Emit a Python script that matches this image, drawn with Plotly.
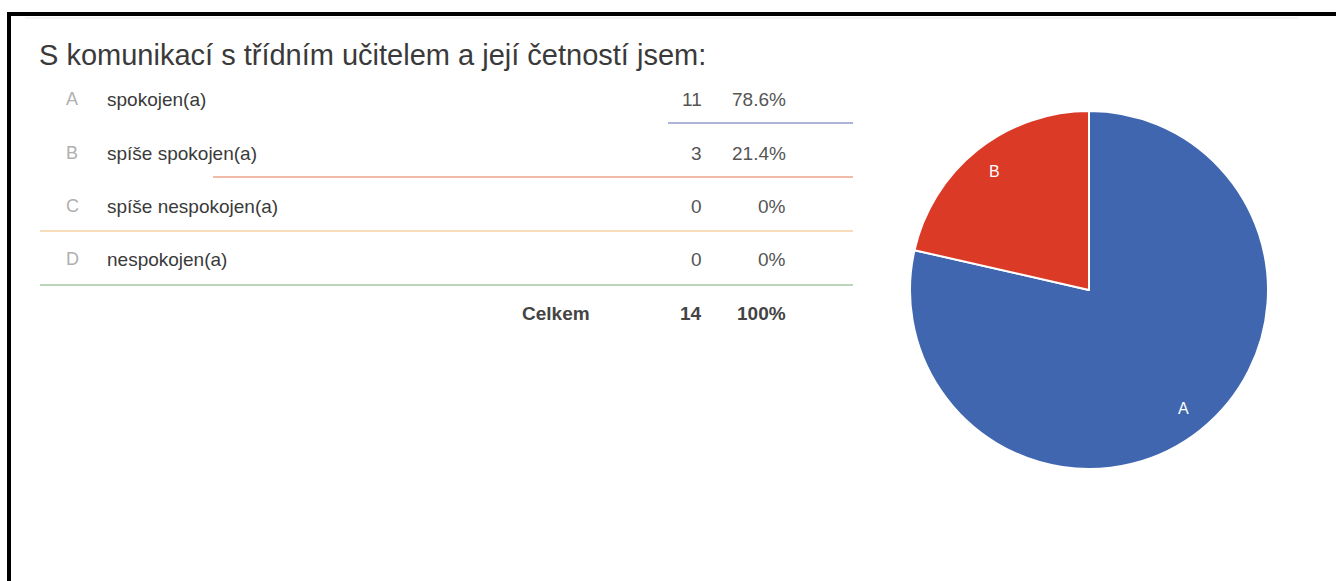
import math
import plotly.graph_objects as go

W, H = 1336, 581

title = 'S komunikací s třídním učitelem a její četností jsem:'
letters = ['A', 'B', 'C', 'D']
answers = ['spokojen(a)', 'spíše spokojen(a)', 'spíše nespokojen(a)', 'nespokojen(a)']
counts = [11, 3, 0, 0]
percents = ['78.6%', '21.4%', '0%', '0%']
total_label = 'Celkem'
total_count = 14
total_percent = '100%'

pie_colors = ['#4066b0', '#db3a26', '#f4a531', '#5aa25a']
row_line_colors = ['#aab5d8', '#f2bba9', '#f9dcbc', '#bcd6bc']
# where each separator line starts (px), all end at the right edge of the table
row_line_x0 = [668, 213, 40, 40]

font = 'Arial, Liberation Sans, sans-serif'
row_y = [99, 153, 206, 259]
line_y = [123, 177, 231, 285]
total_y = 313

# pie placement in px
cx, cy, r = 1089, 290, 179

fig = go.Figure()

fig.add_trace(go.Pie(
    labels=letters, values=counts, sort=False, direction='clockwise', rotation=0,
    marker=dict(colors=pie_colors, line=dict(color='white', width=2)),
    textinfo='none', showlegend=False, hoverinfo='label+value+percent',
    domain=dict(x=[(cx - r) / W, (cx + r) / W], y=[1 - (cy + r) / H, 1 - (cy - r) / H]),
))

ann = []
# slice labels sit near the rim, on each slice's bisector
total = sum(counts)
cum = 0
for lab, v in zip(letters, counts):
    if v > 0:
        mid = (cum + v / 2) / total * 2 * math.pi
        ann.append(dict(x=cx + 0.85 * r * math.sin(mid), y=cy - 0.85 * r * math.cos(mid), text=lab,
                        xanchor='center', yanchor='middle', font=dict(size=16, color='white', family=font)))
    cum += v

ann.append(dict(x=37, y=55, text=title, xanchor='left', yanchor='middle',
                font=dict(size=29, color='#3a3a3a', family=font)))
for i in range(len(letters)):
    ann.append(dict(x=64, y=row_y[i], text=letters[i], xanchor='left', yanchor='middle',
                    font=dict(size=18, color='#b0b0b0', family=font)))
    ann.append(dict(x=105, y=row_y[i], text=answers[i], xanchor='left', yanchor='middle',
                    font=dict(size=19, color='#3a3a3a', family=font)))
    ann.append(dict(x=704, y=row_y[i], text=str(counts[i]), xanchor='right', yanchor='middle',
                    font=dict(size=19, color='#555555', family=font)))
    ann.append(dict(x=788, y=row_y[i], text=percents[i], xanchor='right', yanchor='middle',
                    font=dict(size=19, color='#555555', family=font)))
ann.append(dict(x=592, y=total_y, text='<b>%s</b>' % total_label, xanchor='right', yanchor='middle',
                font=dict(size=19, color='#444444', family=font)))
ann.append(dict(x=704, y=total_y, text='<b>%d</b>' % total_count, xanchor='right', yanchor='middle',
                font=dict(size=19, color='#444444', family=font)))
ann.append(dict(x=788, y=total_y, text='<b>%s</b>' % total_percent, xanchor='right', yanchor='middle',
                font=dict(size=19, color='#444444', family=font)))
for a in ann:
    a.update(xref='x', yref='y', showarrow=False)

shapes = []
for i in range(len(letters)):
    shapes.append(dict(type='line', xref='x', yref='y', x0=row_line_x0[i], x1=853, y0=line_y[i], y1=line_y[i],
                       line=dict(color=row_line_colors[i], width=2)))
# faint top rule and black frame of the screenshot
shapes.append(dict(type='line', xref='x', yref='y', x0=25, x1=1299, y0=18, y1=18, line=dict(color='#e6e6e6', width=1)))
shapes.append(dict(type='rect', xref='x', yref='y', x0=7, x1=W, y0=12, y1=16, fillcolor='black', line=dict(width=0)))
shapes.append(dict(type='rect', xref='x', yref='y', x0=7, x1=11, y0=12, y1=H, fillcolor='black', line=dict(width=0)))

fig.update_layout(
    width=W, height=H, margin=dict(l=0, r=0, t=0, b=0),
    paper_bgcolor='white', plot_bgcolor='rgba(0,0,0,0)',
    xaxis=dict(range=[0, W], visible=False, fixedrange=True),
    yaxis=dict(range=[H, 0], visible=False, fixedrange=True),
    annotations=ann, shapes=shapes, font=dict(family=font),
)

fig.write_html('out.html', config={'displayModeBar': False},
               post_script="document.body.style.margin='0';")
